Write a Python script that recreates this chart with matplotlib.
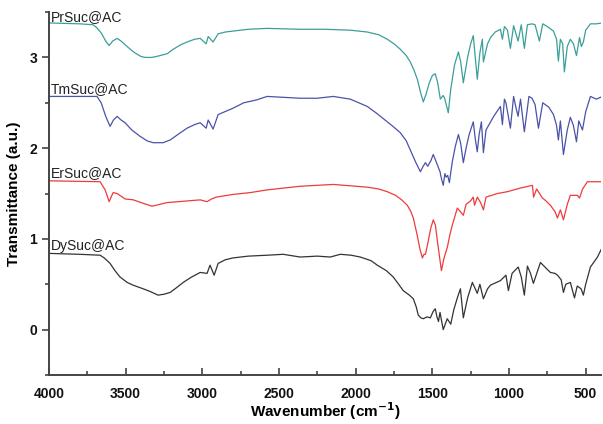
import matplotlib.pyplot as plt
from matplotlib.ticker import MultipleLocator

# FTIR spectra (wavenumber cm-1, transmittance a.u.)
pr_wn = [4000, 3800, 3713, 3690, 3660, 3630, 3608, 3585, 3556, 3530, 3504, 3470, 3440,
         3400, 3373, 3330, 3300, 3230, 3190, 3140, 3100, 3050, 3014, 2975, 2962, 2930,
         2897, 2850, 2800, 2700, 2577, 2362, 2200, 2035, 1925, 1850, 1794, 1750, 1709,
         1670, 1644, 1620, 1598, 1578, 1559, 1540, 1520, 1500, 1481, 1465, 1448, 1430,
         1420, 1396, 1380, 1355, 1330, 1315, 1298, 1270, 1250, 1233, 1207, 1190, 1174,
         1167, 1140, 1120, 1090, 1056, 1043, 1030, 1010, 991, 970, 941, 920, 900, 880,
         850, 830, 802, 780, 750, 710, 690, 678, 665, 650, 639, 620, 600, 580, 560,
         540, 528, 515, 500, 469, 430, 391]
pr_t = [3.38, 3.37, 3.36, 3.33, 3.27, 3.18, 3.13, 3.18, 3.21, 3.18, 3.14, 3.09, 3.05,
        3.01, 3.00, 3.00, 3.01, 3.04, 3.09, 3.14, 3.17, 3.20, 3.21, 3.15, 3.23, 3.17,
        3.26, 3.28, 3.29, 3.31, 3.32, 3.31, 3.31, 3.30, 3.28, 3.25, 3.20, 3.15, 3.09,
        3.02, 2.95, 2.86, 2.76, 2.62, 2.51, 2.60, 2.72, 2.80, 2.82, 2.72, 2.54, 2.58,
        2.55, 2.39, 2.65, 2.92, 3.06, 2.95, 2.72, 3.00, 3.15, 3.24, 2.76, 3.05, 3.20,
        2.95, 3.15, 3.22, 3.28, 3.31, 3.20, 3.34, 3.30, 3.10, 3.35, 3.18, 3.36, 3.10,
        3.36, 3.37, 3.36, 3.18, 3.37, 3.34, 3.29, 3.20, 2.96, 3.20, 3.15, 2.84, 3.12,
        3.20, 3.15, 3.02, 3.22, 3.12, 3.17, 3.30, 3.37, 3.37, 3.38]

tm_wn = [4000, 3800, 3687, 3660, 3630, 3602, 3580, 3556, 3530, 3504, 3460, 3406, 3360,
         3321, 3256, 3210, 3160, 3100, 3050, 3014, 2975, 2962, 2930, 2897, 2800, 2730,
         2650, 2577, 2470, 2362, 2251, 2146, 2035, 1925, 1860, 1794, 1750, 1709, 1670,
         1644, 1610, 1578, 1560, 1545, 1530, 1510, 1494, 1475, 1450, 1440, 1429, 1418,
         1410, 1400, 1389, 1370, 1350, 1330, 1315, 1298, 1280, 1260, 1233, 1220, 1207,
         1195, 1180, 1167, 1150, 1100, 1056, 1043, 1030, 1020, 991, 970, 955, 941, 925,
         900, 870, 850, 830, 808, 780, 740, 710, 690, 678, 665, 645, 620, 600, 580,
         560, 545, 521, 500, 469, 430, 391]
tm_t = [2.57, 2.57, 2.57, 2.50, 2.35, 2.24, 2.31, 2.35, 2.31, 2.28, 2.20, 2.13, 2.08,
        2.06, 2.06, 2.09, 2.15, 2.22, 2.26, 2.28, 2.22, 2.31, 2.21, 2.37, 2.44, 2.50,
        2.53, 2.57, 2.56, 2.55, 2.55, 2.57, 2.54, 2.46, 2.38, 2.29, 2.23, 2.17, 2.08,
        1.98, 1.85, 1.74, 1.80, 1.84, 1.80, 1.86, 1.93, 1.85, 1.74, 1.66, 1.59, 1.72,
        1.68, 1.70, 1.62, 1.85, 2.02, 2.15, 2.05, 1.84, 2.00, 2.15, 2.29, 2.10, 1.96,
        2.15, 2.29, 1.95, 2.20, 2.35, 2.46, 2.26, 2.54, 2.50, 2.22, 2.57, 2.45, 2.35,
        2.54, 2.18, 2.57, 2.55, 2.48, 2.22, 2.50, 2.45, 2.37, 2.25, 2.09, 2.30, 1.93,
        2.20, 2.34, 2.25, 2.07, 2.30, 2.20, 2.40, 2.57, 2.54, 2.57]

er_wn = [4000, 3667, 3634, 3608, 3582, 3556, 3504, 3450, 3400, 3328, 3230, 3014, 2969,
         2940, 2910, 2800, 2688, 2577, 2362, 2146, 1925, 1850, 1794, 1740, 1700, 1663,
         1640, 1624, 1600, 1580, 1565, 1555, 1545, 1530, 1510, 1494, 1480, 1465, 1441,
         1425, 1402, 1385, 1370, 1337, 1298, 1280, 1250, 1233, 1225, 1207, 1185, 1167,
         1150, 1076, 1011, 926, 847, 840, 820, 782, 760, 730, 700, 684, 665, 645, 620,
         600, 554, 540, 520, 489, 440, 391]
er_t = [1.64, 1.63, 1.54, 1.41, 1.51, 1.50, 1.44, 1.43, 1.40, 1.36, 1.40, 1.43, 1.41,
        1.44, 1.46, 1.49, 1.51, 1.54, 1.58, 1.60, 1.57, 1.55, 1.52, 1.48, 1.43, 1.37,
        1.30, 1.23, 1.05, 0.88, 0.79, 0.83, 0.83, 0.95, 1.12, 1.21, 1.15, 0.95, 0.65,
        0.78, 0.91, 1.05, 1.15, 1.34, 1.26, 1.38, 1.42, 1.46, 1.37, 1.46, 1.40, 1.32,
        1.46, 1.50, 1.52, 1.56, 1.59, 1.46, 1.55, 1.45, 1.42, 1.37, 1.30, 1.23, 1.32,
        1.21, 1.38, 1.48, 1.48, 1.45, 1.55, 1.63, 1.63, 1.63]

dy_wn = [4000, 3800, 3667, 3640, 3602, 3570, 3537, 3490, 3452, 3386, 3340, 3289, 3250,
         3210, 3170, 3125, 3070, 3014, 2969, 2950, 2923, 2897, 2850, 2800, 2700, 2577,
         2473, 2362, 2250, 2166, 2100, 2030, 1970, 1900, 1859, 1800, 1755, 1720, 1690,
         1650, 1624, 1605, 1592, 1575, 1559, 1535, 1513, 1495, 1481, 1470, 1460, 1450,
         1429, 1403, 1380, 1360, 1337, 1317, 1298, 1270, 1239, 1207, 1190, 1167, 1140,
         1121, 1056, 1020, 1004, 980, 940, 920, 900, 880, 860, 841, 795, 760, 730, 700,
         684, 660, 645, 630, 600, 573, 555, 530, 515, 500, 469, 423, 391]
dy_t = [0.84, 0.83, 0.82, 0.79, 0.73, 0.65, 0.58, 0.52, 0.49, 0.45, 0.42, 0.38, 0.39,
        0.41, 0.46, 0.52, 0.58, 0.63, 0.62, 0.71, 0.60, 0.73, 0.77, 0.79, 0.81, 0.82,
        0.83, 0.80, 0.81, 0.80, 0.83, 0.82, 0.80, 0.76, 0.71, 0.65, 0.58, 0.50, 0.43,
        0.38, 0.34, 0.25, 0.16, 0.13, 0.12, 0.14, 0.13, 0.20, 0.23, 0.14, 0.09, 0.19,
        0.00, 0.12, 0.06, 0.22, 0.35, 0.45, 0.13, 0.35, 0.52, 0.40, 0.50, 0.34, 0.45,
        0.49, 0.54, 0.60, 0.43, 0.62, 0.69, 0.58, 0.38, 0.70, 0.62, 0.51, 0.74, 0.68,
        0.63, 0.62, 0.60, 0.55, 0.41, 0.50, 0.52, 0.35, 0.48, 0.45, 0.38, 0.50, 0.69,
        0.80, 0.91]

series = [
    ("PrSuc@AC", pr_wn, pr_t, "#3a9f99", 3.45),
    ("TmSuc@AC", tm_wn, tm_t, "#4b52a8", 2.65),
    ("ErSuc@AC", er_wn, er_t, "#ee3b3b", 1.73),
    ("DySuc@AC", dy_wn, dy_t, "#333333", 0.92),
]

plt.rcParams['font.family'] = ['Liberation Sans', 'DejaVu Sans']

fig = plt.figure(figsize=(6.03, 4.24), dpi=100)
ax = fig.add_axes([0.0813, 0.1156, 0.9154, 0.856])

for name, wn, t, col, ylab in series:
    ax.plot(wn, t, color=col, lw=0.9)
    ax.text(3990, ylab, name, fontsize=10, color='#222222', va='center', ha='left')

ax.set_xlim(4000, 400)
ax.set_ylim(-0.5, 3.5)
ax.xaxis.set_major_locator(MultipleLocator(500))
ax.xaxis.set_minor_locator(MultipleLocator(250))
ax.yaxis.set_major_locator(MultipleLocator(1))
ax.yaxis.set_minor_locator(MultipleLocator(0.5))

for s in ['top', 'right']:
    ax.spines[s].set_visible(False)
for s in ['left', 'bottom']:
    ax.spines[s].set_linewidth(1.4)
    ax.spines[s].set_color('#444444')

ax.tick_params(axis='x', which='both', direction='in', colors='#444444', width=1.2, pad=9)
ax.tick_params(axis='x', which='major', length=5)
ax.tick_params(axis='x', which='minor', length=3)
ax.tick_params(axis='y', which='both', direction='out', colors='#444444', width=1.2)
ax.tick_params(axis='y', which='major', length=5)
ax.tick_params(axis='y', which='minor', length=3)
for lab in ax.get_xticklabels() + ax.get_yticklabels():
    lab.set_fontweight('bold')
    lab.set_fontsize(10)
    lab.set_color('#111111')

ax.set_xlabel(r'Wavenumber (cm$^{\mathbf{-1}}$)', fontsize=11, fontweight='bold', labelpad=-1)
ax.set_ylabel('Transmittance (a.u.)', fontsize=11, fontweight='bold', labelpad=6)

fig.savefig('out.png', dpi=100)
